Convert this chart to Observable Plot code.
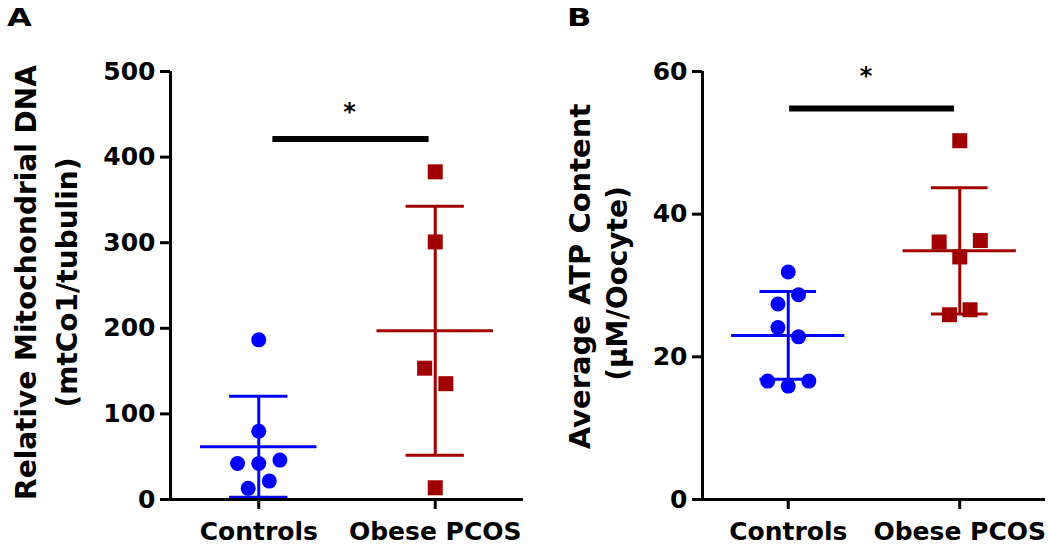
<!DOCTYPE html>
<html>
<head>
<meta charset="utf-8">
<script src="https://cdn.jsdelivr.net/npm/d3@7"></script>
<script src="https://cdn.jsdelivr.net/npm/@observablehq/plot@0.6"></script>
<style>
  html, body { margin: 0; padding: 0; background: #fff; }
  #chart { position: relative; width: 1050px; height: 546px; overflow: hidden; background: #fff; }
  .panel { position: absolute; top: 0; }
  .letter { position: absolute; top: 5px; font: bold 25px "DejaVu Sans", sans-serif; line-height: 1; transform: scaleX(1.28); transform-origin: left top; color: #000; }
</style>
</head>
<body>
<div id="chart"></div>
<script>
// ---------- data ----------
const groups = ["Controls", "Obese PCOS"];

// Panel A: relative mitochondrial DNA
const mtdnaControls     = [186.5, 79.7, 42.1, 42.1, 46.0, 21.5, 13.0];
const mtdnaControlsSlot = [0, 0, -2, 0, 2, 1, -1];
const mtdnaPcos         = [382.8, 300.9, 153.4, 135.3, 13.7];
const mtdnaPcosSlot     = [0, 0, -1, 1, 0];
const mtdnaTicks        = [0, 100, 200, 300, 400, 500];
const mtdnaTitle        = ["Relative Mitochondrial DNA", "(mtCo1/tubulin)"];
const mtdnaSig          = [{from: 0.08, to: 0.965, y: 421, starX: 0.515, starY: 459}];

// Panel B: ATP content
const atpControls     = [31.9, 28.7, 27.4, 24.1, 22.8, 16.6, 16.6, 15.9];
const atpControlsSlot = [0, 1, -1, -1, 1, -2, 2, 0];
const atpPcos         = [50.3, 36.1, 36.3, 34.0, 25.9, 26.6];
const atpPcosSlot     = [0, -2, 2, 0, -1, 1];
const atpTicks        = [0, 20, 40, 60];
const atpTitle        = ["Average ATP Content", "(\u00b5M/Oocyte)"];
const atpSig          = [{from: 0.008, to: 0.97, y: 54.8, starX: 0.454, starY: 60.2}];

const colors = ["#0000FF", "#A00000"];
const symbols = ["circle", "square"];

// ---------- drawing ----------
function panel(cfg) {
  const sets = [cfg.controls, cfg.pcos];
  const slots = [cfg.controlsSlot, cfg.pcosSlot];
  const yMax = d3.max(cfg.ticks);
  const step = 0.06;
  const marks = [];

  sets.forEach((vals, g) => {
    const rows = vals.map((v, i) => ({g, v, s: slots[g][i]}));
    const stat = [{g, mean: d3.mean(vals), sd: d3.deviation(vals)}];
    marks.push(
      Plot.dot(rows, {
        x: d => d.g + d.s * step, y: "v",
        r: g === 0 ? 7.5 : 8.46, symbol: symbols[g],
        fill: colors[g], stroke: "none"
      }),
      Plot.ruleX(stat, {x: "g", y1: d => d.mean - d.sd, y2: d => d.mean + d.sd, stroke: colors[g], strokeWidth: 3}),
      Plot.ruleY(stat, {x1: d => d.g - 0.165, x2: d => d.g + 0.165, y: d => d.mean + d.sd, stroke: colors[g], strokeWidth: 3}),
      Plot.ruleY(stat, {x1: d => d.g - 0.165, x2: d => d.g + 0.165, y: d => d.mean - d.sd, stroke: colors[g], strokeWidth: 3}),
      Plot.ruleY(stat, {x1: d => d.g - 0.33, x2: d => d.g + 0.33, y: "mean", stroke: colors[g], strokeWidth: 3})
    );
  });

  marks.push(
    Plot.ruleY(cfg.sig, {x1: "from", x2: "to", y: "y", stroke: "#000", strokeWidth: 6}),
    Plot.text(cfg.sig, {x: "starX", y: "starY", text: () => "*", fontSize: 24, fontWeight: "bold", dy: 6, fill: "#000"}),
    Plot.ruleY([0], {x1: () => -0.5, x2: () => 1.5, stroke: "#000", strokeWidth: 3}),
    Plot.ruleX([-0.5], {y1: () => 0, y2: () => yMax, stroke: "#000", strokeWidth: 3}),
    Plot.axisY({ticks: cfg.ticks, tickSize: 10, tickPadding: 5, strokeWidth: 3, label: null,
      fontSize: 25, fontWeight: "bold", fill: "#000"}),
    Plot.axisX({ticks: [0, 1], tickFormat: i => groups[i], tickSize: 10, tickPadding: 13, strokeWidth: 3, label: null,
      fontSize: 25, fontWeight: "bold", fill: "#000"}),
    Plot.text([cfg.title[0]], {text: d => d, frameAnchor: "left", rotate: -90, textAnchor: "middle", lineAnchor: "top",
      fontSize: cfg.t1size, fontWeight: "bold", fill: "#000", dx: cfg.t1dx, dy: cfg.t1dy}),
    Plot.text([cfg.title[1]], {text: d => d, frameAnchor: "left", rotate: -90, textAnchor: "middle", lineAnchor: "top",
      fontSize: 28, fontWeight: "bold", fill: "#000", dx: cfg.t2dx, dy: cfg.t2dy})
  );

  return Plot.plot({
    width: 525,
    height: 546,
    marginTop: 71,
    marginBottom: 47,
    marginLeft: cfg.marginLeft,
    marginRight: cfg.marginRight,
    x: {type: "linear", domain: [-0.5, 1.5], label: null},
    y: {type: "linear", domain: [0, yMax], label: null},
    style: {fontFamily: "DejaVu Sans, sans-serif", fontSize: "25px", fontWeight: "bold", color: "#000", background: "#fff", overflow: "visible"},
    marks
  });
}

const chart = document.getElementById("chart");

const a = panel({
  controls: mtdnaControls, controlsSlot: mtdnaControlsSlot,
  pcos: mtdnaPcos, pcosSlot: mtdnaPcosSlot,
  ticks: mtdnaTicks, title: mtdnaTitle, sig: mtdnaSig,
  marginLeft: 170, marginRight: 2,
  t1size: 28, t1dx: -154, t1dy: -3, t2dx: -113, t2dy: -3
});
a.classList.add("panel");
a.style.left = "0px";

const b = panel({
  controls: atpControls, controlsSlot: atpControlsSlot,
  pcos: atpPcos, pcosSlot: atpPcosSlot,
  ticks: atpTicks, title: atpTitle, sig: atpSig,
  marginLeft: 177, marginRight: 5,
  t1size: 29, t1dx: -133, t1dy: -9, t2dx: -95, t2dy: -2
});
b.classList.add("panel");
b.style.left = "525px";

chart.append(a, b);

const la = document.createElement("div");
la.className = "letter"; la.textContent = "A"; la.style.left = "7px";
const lb = document.createElement("div");
lb.className = "letter"; lb.textContent = "B"; lb.style.left = "567px";
chart.append(la, lb);
</script>
</body>
</html>
